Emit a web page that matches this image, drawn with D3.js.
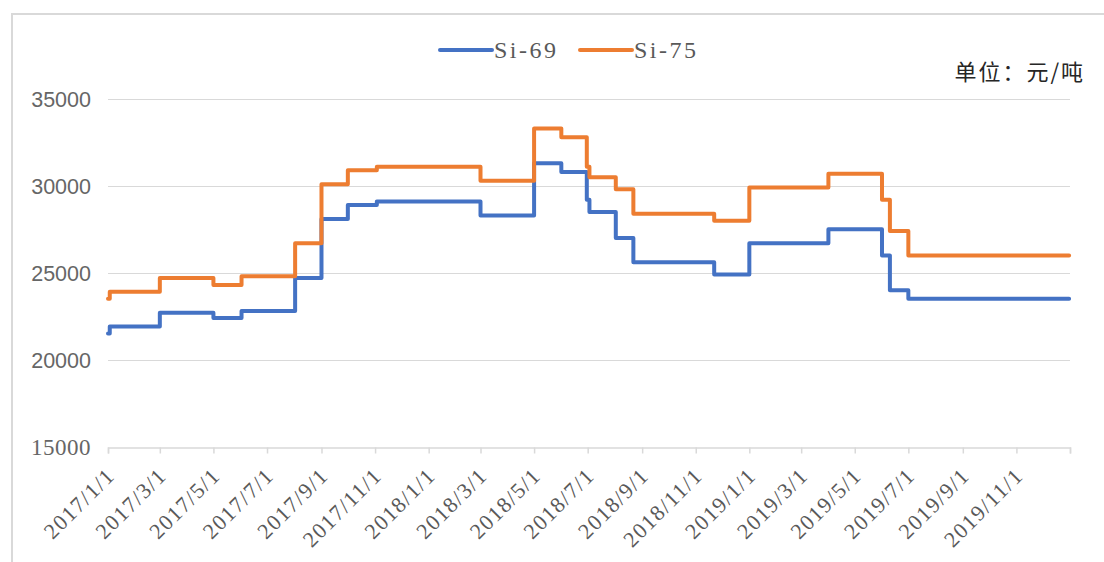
<!doctype html>
<html>
<head>
<meta charset="utf-8">
<script src="https://cdn.jsdelivr.net/npm/d3@7"></script>
<style>
  body { margin: 0; background: #fff; }
  svg { display: block; }
</style>
</head>
<body>
<div id="chart"></div>
<script>
// dates where the price changes (step chart)
var dates = ["2017/1/1", "2017/1/3", "2017/3/1", "2017/5/1", "2017/6/2", "2017/8/2", "2017/9/1",
  "2017/10/1", "2017/11/3", "2018/3/1", "2018/5/1", "2018/6/1", "2018/6/30", "2018/7/3",
  "2018/8/2", "2018/8/22", "2018/11/22", "2019/1/1", "2019/4/1", "2019/6/1", "2019/6/10",
  "2019/7/1", "2019/12/31"];
var si69 = [21500, 21900, 22700, 22400, 22800, 24700, 28100, 28900, 29100, 28300, 31300, 30800,
  29200, 28500, 27000, 25600, 24900, 26700, 27500, 26000, 24000, 23500, 23500];
var si75 = [23500, 23900, 24700, 24300, 24800, 26700, 30100, 30900, 31100, 30300, 33300, 32800,
  31100, 30500, 29800, 28400, 28000, 29900, 30700, 29200, 27400, 26000, 26000];

var seriesNames = ["Si-69", "Si-75"];
var colors = ["#4472C4", "#ED7D31"];
var yTicks = [15000, 20000, 25000, 30000, 35000];
var xTickLabels = ["2017/1/1", "2017/3/1", "2017/5/1", "2017/7/1", "2017/9/1", "2017/11/1",
  "2018/1/1", "2018/3/1", "2018/5/1", "2018/7/1", "2018/9/1", "2018/11/1",
  "2019/1/1", "2019/3/1", "2019/5/1", "2019/7/1", "2019/9/1", "2019/11/1"];
var xEnd = "2020/1/1";
var unitText = "单位：元/吨";

var W = 1104, H = 562;
var parse = d3.timeParse("%Y/%m/%d");
var serif = "'Liberation Serif', 'DejaVu Serif', serif";

var svg = d3.select("#chart").append("svg")
  .attr("width", W)
  .attr("height", H);

// outer frame
svg.append("rect")
  .attr("x", 12).attr("y", 14)
  .attr("width", W + 20).attr("height", H + 20)
  .attr("fill", "#fff")
  .attr("stroke", "#d9d9d9")
  .attr("stroke-width", 2);

var x = d3.scaleTime()
  .domain([parse(xTickLabels[0]), parse(xEnd)])
  .range([108, 1070]);

var y = d3.scaleLinear()
  .domain([15000, 35000])
  .range([446.5, 99]);

// gridlines
svg.append("g").selectAll("line")
  .data(yTicks.slice(1))
  .enter().append("line")
  .attr("x1", 108).attr("x2", 1070)
  .attr("y1", function(d) { return Math.round(y(d)) + 0.5; })
  .attr("y2", function(d) { return Math.round(y(d)) + 0.5; })
  .attr("stroke", "#d9d9d9")
  .attr("stroke-width", 1);

// y labels (the bottom one is drawn in the serif face, as in the original)
svg.append("g").selectAll("text")
  .data(yTicks)
  .enter().append("text")
  .attr("x", 91)
  .attr("y", function(d) { return y(d) + 8; })
  .attr("text-anchor", "end")
  .attr("fill", "#666")
  .style("font-family", function(d, i) { return i == 0 ? serif : "'Liberation Sans', Arial, sans-serif"; })
  .style("font-size", function(d, i) { return i == 0 ? "23px" : "21.5px"; })
  .style("letter-spacing", function(d, i) { return i == 0 ? "0.5px" : "0px"; })
  .text(function(d) { return d; });

// x axis
var tickDates = xTickLabels.concat([xEnd]).map(parse);
var xAxis = svg.append("g")
  .attr("transform", "translate(0," + (Math.round(y(15000)) + 0.5) + ")")
  .call(d3.axisBottom(x).tickValues(tickDates).tickSize(6).tickFormat(""));
xAxis.select(".domain").attr("stroke", "#d9d9d9").attr("stroke-width", 1.5);
xAxis.selectAll(".tick line").attr("stroke", "#d9d9d9").attr("stroke-width", 1.5);

svg.append("g").selectAll("text")
  .data(xTickLabels)
  .enter().append("text")
  .attr("transform", function(d) {
    return "translate(" + (x(parse(d)) + 8) + "," + 477 + ") rotate(-45)";
  })
  .attr("text-anchor", "end")
  .attr("fill", "#595959")
  .style("font-family", serif)
  .style("font-size", "22px")
  .style("letter-spacing", "1.4px")
  .text(function(d) { return d; });

// lines
var rows = dates.map(function(d, i) {
  return { date: parse(d), v69: si69[i], v75: si75[i] };
});
var keys = ["v69", "v75"];

keys.forEach(function(k, i) {
  var line = d3.line()
    .x(function(d) { return x(d.date); })
    .y(function(d) { return y(d[k]); })
    .curve(d3.curveStepAfter);
  svg.append("path")
    .datum(rows)
    .attr("fill", "none")
    .attr("stroke", colors[i])
    .attr("stroke-width", 4)
    .attr("stroke-linejoin", "round")
    .attr("stroke-linecap", "round")
    .attr("d", line);
});

// legend
var legendX = [440, 580];
seriesNames.forEach(function(name, i) {
  svg.append("line")
    .attr("x1", legendX[i]).attr("x2", legendX[i] + 52)
    .attr("y1", 50).attr("y2", 50)
    .attr("stroke", colors[i])
    .attr("stroke-width", 4)
    .attr("stroke-linecap", "round");
  svg.append("text")
    .attr("x", legendX[i] + 54)
    .attr("y", 58)
    .attr("fill", "#595959")
    .style("font-family", serif)
    .style("font-size", "24px")
    .style("letter-spacing", "2.5px")
    .text(name);
});

// unit
svg.append("text")
  .attr("x", 1085)
  .attr("y", 80)
  .attr("text-anchor", "end")
  .attr("fill", "#262626")
  .style("font-family", "'Noto Sans CJK SC', sans-serif")
  .style("font-size", "22px")
  .style("letter-spacing", "2px")
  .text(unitText);
</script>
</body>
</html>
